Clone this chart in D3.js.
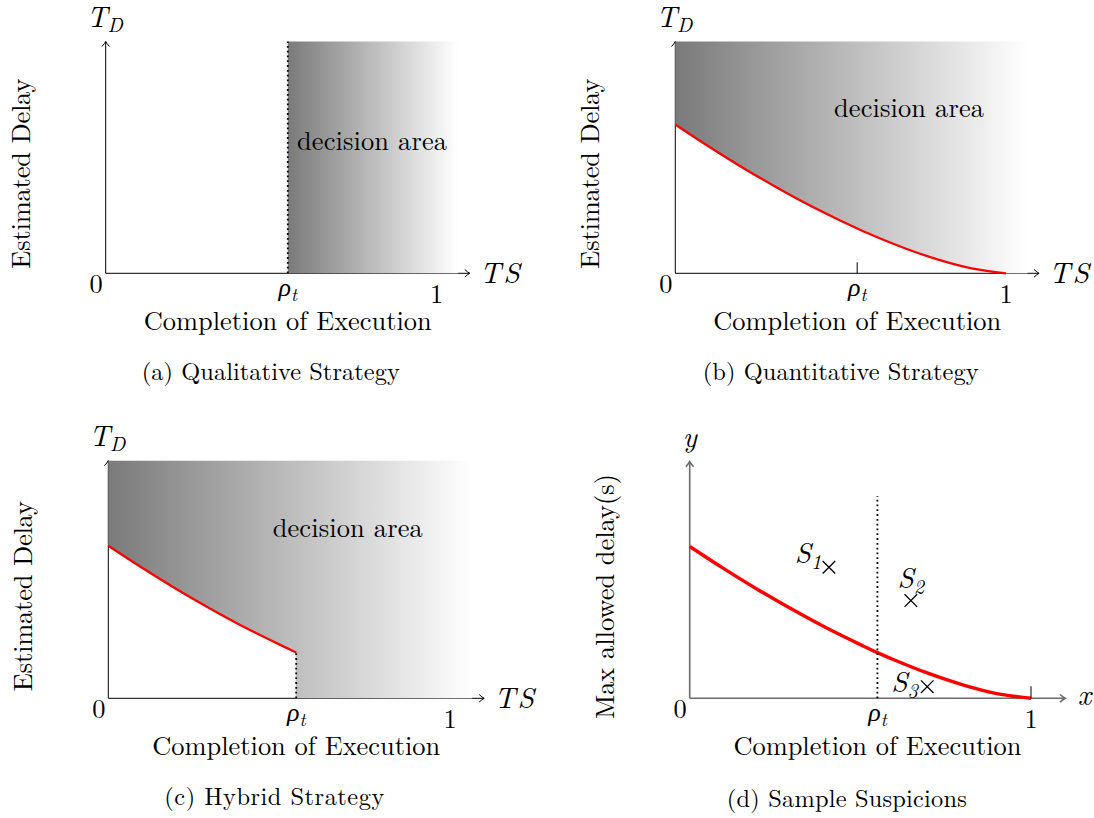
<!DOCTYPE html>
<html>
<head>
<meta charset="utf-8">
<script src="https://cdn.jsdelivr.net/npm/d3@7/dist/d3.min.js"></script>
<style>
  html, body { margin: 0; padding: 0; background: #fff; }
  svg { display: block; }
</style>
</head>
<body>
<svg id="chart" width="1094" height="818"></svg>
<script>
// ---------------- data ----------------
const panelIds = ["a", "b", "c", "d"];
const panelCaptions = ["(a) Qualitative Strategy", "(b) Quantitative Strategy", "(c) Hybrid Strategy", "(d) Sample Suspicions"];
const yTitles = ["Estimated Delay", "Estimated Delay", "Estimated Delay", "Max allowed delay(s)"];
const xTitle = "Completion of Execution";
const decisionLabel = "decision area";
const rho = 0.55;                 // threshold ρt on the completion axis
const xTickLabels = ["0", "ρt", "1"];
// max allowed delay curve (fraction of axis height)
const curveX = [0, 0.1, 0.2, 0.3, 0.4, 0.5, 0.55, 0.6, 0.7, 0.8, 0.9, 1.0];
const curveY = [0.642, 0.548, 0.459, 0.376, 0.298, 0.227, 0.193, 0.162, 0.105, 0.057, 0.020, 0.0];
// sample suspicions (panel d)
const suspicionNames = ["S1", "S2", "S3"];
const suspicionX = [0.408, 0.648, 0.696];
const suspicionY = [0.554, 0.413, 0.049];
const dottedTop = 0.855;          // top of the dotted ρt line in panel d
const shadeEnd = 1.065;           // right end of the shaded decision area
const axisEnd = 1.1;              // end of the horizontal arrow

// ---------------- layout / style ----------------
const FONT = "'Latin Modern Roman', 'CMU Serif', 'Liberation Serif', serif";
const layout = {
  a: { x0: 105.7, x1: 436.7, y0: 273.3, y1: 41.5 },
  b: { x0: 675.3, x1: 1006,  y0: 273.3, y1: 41.5 },
  c: { x0: 108.3, x1: 450,   y0: 698.3, y1: 460.7 },
  d: { x0: 689.7, x1: 1031,  y0: 698.3, y1: 461.7 }
};
const decisionPos = { a: [297, 150], b: [834, 117], c: [272.7, 537] };
const captionPos = { a: [270.8, 380, 258], b: [840.7, 380, 276], c: [274.3, 805, 220], d: [846.8, 806.5, 240] };
const suspicionLabelOffset = [[-7.6, -4.3, "end"], [0, -12.7, "middle"], [-9.3, 5, "end"]];

const svg = d3.select("#chart");
const defs = svg.append("defs");

function plainText(g, x, y, str, size, anchor) {
  return g.append("text").attr("x", x).attr("y", y).attr("text-anchor", anchor || "start")
    .attr("style", `font-family:${FONT};font-size:${size}px`).attr("fill", "#000").text(str);
}
function mathText(g, x, y, main, sub, anchor, size, subDy) {
  const t = g.append("text").attr("x", x).attr("y", y)
    .attr("text-anchor", anchor).attr("fill", "#000")
    .attr("style", `font-family:${FONT};font-style:italic;font-size:${size}px`);
  t.append("tspan").text(main);
  if (sub) t.append("tspan").attr("dy", subDy != null ? subDy : size * 0.22).attr("style", `font-size:${size * 0.7}px`).text(sub);
  return t;
}

panelIds.forEach((id, i) => {
  const L = layout[id];
  const x = d3.scaleLinear().domain([0, 1]).range([L.x0, L.x1]);
  const y = d3.scaleLinear().domain([0, 1]).range([L.y0, L.y1]);
  const g = svg.append("g").attr("class", "panel-" + id);
  const isD = id === "d";
  const axisColor = isD ? "#6a6a6a" : "#000";
  const axisW = isD ? 1.6 : 1;

  // axes with arrow heads
  g.append("line").attr("x1", x(0)).attr("y1", y(0)).attr("x2", x(axisEnd)).attr("y2", y(0))
    .attr("stroke", axisColor).attr("stroke-width", axisW);
  g.append("line").attr("x1", x(0)).attr("y1", y(0)).attr("x2", x(0)).attr("y2", y(1))
    .attr("stroke", axisColor).attr("stroke-width", axisW);
  const xt = x(axisEnd), yt = y(1);
  g.append("path").attr("d", `M${xt - 5},${y(0) - 3.8} Q${xt - 2},${y(0) - 1} ${xt},${y(0)} Q${xt - 2},${y(0) + 1} ${xt - 5},${y(0) + 3.8}`)
    .attr("fill", "none").attr("stroke", axisColor).attr("stroke-width", axisW);
  g.append("path").attr("d", `M${x(0) - 3.8},${yt + 5} Q${x(0) - 1},${yt + 2} ${x(0)},${yt} Q${x(0) + 1},${yt + 2} ${x(0) + 3.8},${yt + 5}`)
    .attr("fill", "none").attr("stroke", axisColor).attr("stroke-width", axisW);

  // shading
  if (!isD) {
    const gs = id === "a" ? rho : 0;
    const grad = defs.append("linearGradient").attr("id", "grad-" + id)
      .attr("gradientUnits", "userSpaceOnUse")
      .attr("x1", x(gs)).attr("y1", 0).attr("x2", x(shadeEnd)).attr("y2", 0);
    grad.append("stop").attr("offset", 0).attr("stop-color", "#7a7a7a");
    grad.append("stop").attr("offset", 1).attr("stop-color", "#ffffff");
    const fill = `url(#grad-${id})`;
    if (id === "a") {
      g.append("rect").attr("x", x(rho)).attr("y", y(1)).attr("width", x(shadeEnd) - x(rho))
        .attr("height", y(0) - y(1)).attr("fill", fill);
    } else {
      const limit = id === "b" ? 1 : rho;
      const pts = curveX.map((v, k) => [v, curveY[k]]).filter(p => p[0] <= limit + 1e-9);
      const area = d3.area().x(p => x(p[0])).y0(p => y(p[1])).y1(y(1)).curve(d3.curveMonotoneX);
      g.append("path").attr("d", area(pts)).attr("fill", fill);
      const rx = x(limit) - 0.6;
      g.append("rect").attr("x", rx).attr("y", y(1)).attr("width", x(shadeEnd) - rx)
        .attr("height", y(0) - y(1)).attr("fill", fill);
    }
  }

  // curve
  if (id !== "a") {
    const limit = id === "c" ? rho : 1;
    const pts = curveX.map((v, k) => [v, curveY[k]]).filter(p => p[0] <= limit + 1e-9);
    const line = d3.line().x(p => x(p[0])).y(p => y(p[1])).curve(d3.curveMonotoneX);
    g.append("path").attr("d", line(pts)).attr("fill", "none")
      .attr("stroke", "#ff0000").attr("stroke-width", isD ? 3.4 : 2.3).attr("stroke-linecap", "butt");
  }

  // dotted threshold lines and ticks
  const dotted = (yTop) => g.append("line").attr("x1", x(rho)).attr("x2", x(rho))
    .attr("y1", y(0)).attr("y2", y(yTop)).attr("stroke", "#000").attr("stroke-width", 1.8)
    .attr("stroke-dasharray", "1.8 3");
  if (id === "a") dotted(1);
  if (id === "c") dotted(curveY[curveX.indexOf(rho)]);
  if (id === "d") dotted(dottedTop);
  if (id === "b") g.append("line").attr("x1", x(rho)).attr("x2", x(rho)).attr("y1", y(0)).attr("y2", y(0) - 11)
    .attr("stroke", "#000").attr("stroke-width", 1);
  if (id === "d") g.append("line").attr("x1", x(1)).attr("x2", x(1)).attr("y1", y(0)).attr("y2", y(0) - 12)
    .attr("stroke", "#000").attr("stroke-width", 1);

  // tick labels
  plainText(g, x(0) - 9.5, y(0) + 19.5, xTickLabels[0], 26.4, "middle");
  mathText(g, x(rho), y(0) + 23, "ρ", "t", "middle", 26, 5);
  plainText(g, x(1), y(0) + 29.5, xTickLabels[2], 26.4, "middle");

  // axis end labels
  if (isD) {
    mathText(g, x(axisEnd) + 12.5, y(0) + 6.5, "x", null, "start", 29);
    mathText(g, x(0), y(1) - 15, "y", null, "middle", 29);
  } else {
    mathText(g, x(axisEnd) + 10, y(0) + 9.5, "TS", null, "start", 29.5).attr("textLength", 40).attr("lengthAdjust", "spacing");
    mathText(g, x(0) - 1, y(1) - 15, "T", "D", "middle", 29, 5.5);
  }

  // axis titles
  plainText(g, x(rho), y(0) + 57, xTitle, 26.4, "middle").attr("textLength", 288).attr("lengthAdjust", "spacing");
  const yc = y(0.43), xb = x(0) - 76;
  plainText(g, 0, 0, yTitles[i], 26.4, "middle").attr("x", null).attr("y", null)
    .attr("transform", `translate(${xb},${yc}) rotate(-90)`)
    .attr("textLength", isD ? 245 : 190).attr("lengthAdjust", "spacing");

  // decision area label
  if (decisionPos[id]) {
    plainText(g, decisionPos[id][0], decisionPos[id][1], decisionLabel, 26.4, "start")
      .attr("textLength", 150).attr("lengthAdjust", "spacing");
  }

  // suspicions
  if (isD) {
    suspicionNames.forEach((nm, k) => {
      const px = x(suspicionX[k]), py = y(suspicionY[k]), s = 6.3;
      g.append("path").attr("d", `M${px - s},${py - s}L${px + s},${py + s}M${px - s},${py + s}L${px + s},${py - s}`)
        .attr("stroke", "#000").attr("stroke-width", 1.3).attr("fill", "none");
      const o = suspicionLabelOffset[k];
      mathText(g, px + o[0], py + o[1], nm[0], nm.slice(1), o[2], 29, 6);
    });
  }

  // caption
  const cp = captionPos[id];
  plainText(g, cp[0], cp[1], panelCaptions[i], 24.4, "middle")
    .attr("textLength", cp[2]).attr("lengthAdjust", "spacing");
});
</script>
</body>
</html>
